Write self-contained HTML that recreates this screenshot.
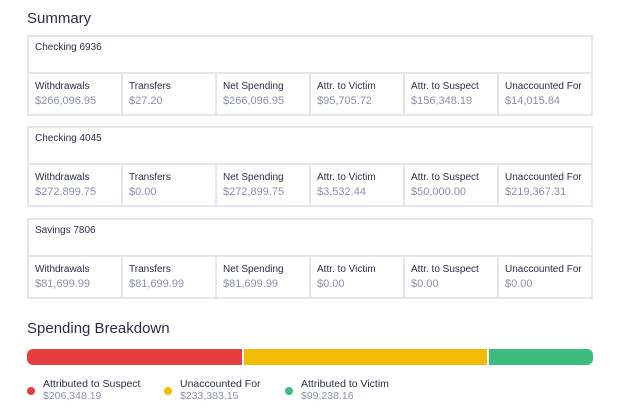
<!DOCTYPE html>
<html><head><style>
*{margin:0;padding:0;box-sizing:border-box}
body{width:625px;height:415px;background:#fff;font-family:"Liberation Sans",Arial,sans-serif;position:relative;overflow:hidden}
h2{position:absolute;left:27px;font-size:15px;font-weight:normal;color:#2c2c4a}
.box{position:absolute;left:27px;width:566px;border:2px solid #e4e6ee;height:81px}
.hd{height:37px;border-bottom:2px solid #e4e6ee;font-size:10px;color:#2c2c4a;padding:5px 0 0 6px}
.row{display:flex;height:40px}
.c{width:94px;border-left:2px solid #e4e6ee;padding:7px 0 0 6px;font-size:10px;color:#2c2c4a}
.c:first-child{border-left:none;width:92px}
.c div{color:#8a90a8;font-size:11px;margin-top:3px}
.bar{position:absolute;top:349px;height:16px}
.lg{position:absolute;top:378px;font-size:10.5px;color:#2c2c4a;line-height:12px}
.lg div{color:#8a90a8}
.dot{position:absolute;top:387px;width:8px;height:8px;border-radius:50%}
</style></head><body>
<h2 style="top:10px">Summary</h2>
<div class="box" style="top:35px"><div class="hd">Checking 6936</div><div class="row">
<div class="c">Withdrawals<div>$266,096.95</div></div><div class="c">Transfers<div>$27.20</div></div><div class="c">Net Spending<div>$266,096.95</div></div><div class="c">Attr. to Victim<div>$95,705.72</div></div><div class="c">Attr. to Suspect<div>$156,348.19</div></div><div class="c">Unaccounted For<div>$14,015.84</div></div></div></div>
<div class="box" style="top:126px"><div class="hd">Checking 4045</div><div class="row">
<div class="c">Withdrawals<div>$272,899.75</div></div><div class="c">Transfers<div>$0.00</div></div><div class="c">Net Spending<div>$272,899.75</div></div><div class="c">Attr. to Victim<div>$3,532.44</div></div><div class="c">Attr. to Suspect<div>$50,000.00</div></div><div class="c">Unaccounted For<div>$219,367.31</div></div></div></div>
<div class="box" style="top:218px"><div class="hd">Savings 7806</div><div class="row">
<div class="c">Withdrawals<div>$81,699.99</div></div><div class="c">Transfers<div>$81,699.99</div></div><div class="c">Net Spending<div>$81,699.99</div></div><div class="c">Attr. to Victim<div>$0.00</div></div><div class="c">Attr. to Suspect<div>$0.00</div></div><div class="c">Unaccounted For<div>$0.00</div></div></div></div>
<h2 style="top:320px">Spending Breakdown</h2>
<div class="bar" style="left:27px;width:215px;background:#e83d3f;border-radius:6px 0 0 6px"></div>
<div class="bar" style="left:244px;width:243px;background:#f2bb05"></div>
<div class="bar" style="left:489px;width:104px;background:#3dbd7d;border-radius:0 6px 6px 0"></div>
<span class="dot" style="left:27px;background:#e83d3f"></span>
<div class="lg" style="left:43px">Attributed to Suspect<div>$206,348.19</div></div>
<span class="dot" style="left:164px;background:#f2bb05"></span>
<div class="lg" style="left:180px">Unaccounted For<div>$233,383.15</div></div>
<span class="dot" style="left:285px;background:#3dbd7d"></span>
<div class="lg" style="left:301px">Attributed to Victim<div>$99,238.16</div></div>
</body></html>
